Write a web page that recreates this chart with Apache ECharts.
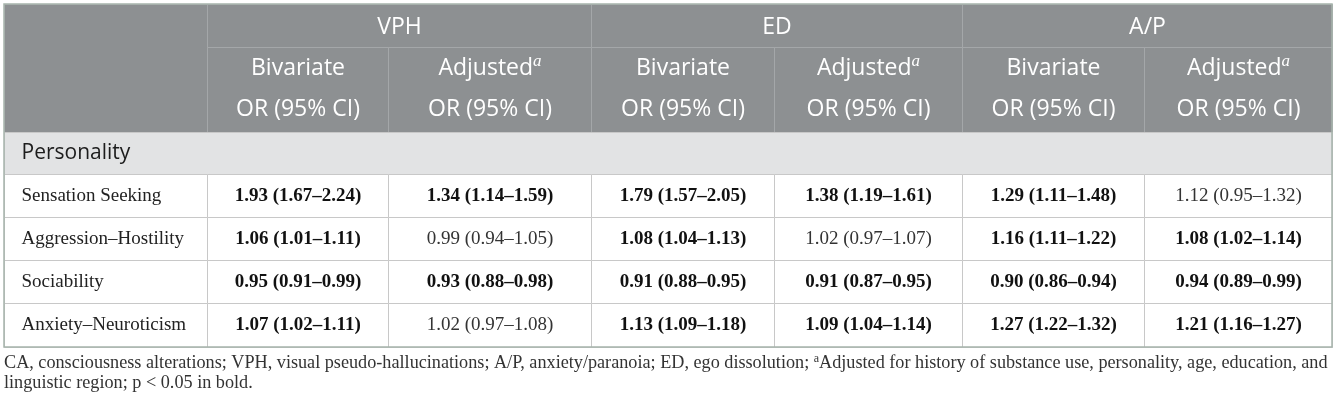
<!DOCTYPE html>
<html>
<head>
<meta charset="utf-8">
<title>Personality OR table</title>
<script src="https://cdn.jsdelivr.net/npm/echarts@6/dist/echarts.min.js"></script>
<style>
  html, body { margin: 0; padding: 0; background: #fff; }
  #tableChart { width: 1337px; height: 404px; }
</style>
</head>
<body>
<div id="tableChart"></div>
<script>
// table content
var groups = ['VPH', 'ED', 'A/P'];
var subHeads = ['Bivariate', 'Adjusted'];
var subLine2 = 'OR (95% CI)';
var sectionName = 'Personality';
var rowLabels = ['Sensation Seeking', 'Aggression–Hostility', 'Sociability', 'Anxiety–Neuroticism'];
var vphBiv = ['1.93 (1.67–2.24)', '1.06 (1.01–1.11)', '0.95 (0.91–0.99)', '1.07 (1.02–1.11)'];
var vphAdj = ['1.34 (1.14–1.59)', '0.99 (0.94–1.05)', '0.93 (0.88–0.98)', '1.02 (0.97–1.08)'];
var edBiv  = ['1.79 (1.57–2.05)', '1.08 (1.04–1.13)', '0.91 (0.88–0.95)', '1.13 (1.09–1.18)'];
var edAdj  = ['1.38 (1.19–1.61)', '1.02 (0.97–1.07)', '0.91 (0.87–0.95)', '1.09 (1.04–1.14)'];
var apBiv  = ['1.29 (1.11–1.48)', '1.16 (1.11–1.22)', '0.90 (0.86–0.94)', '1.27 (1.22–1.32)'];
var apAdj  = ['1.12 (0.95–1.32)', '1.08 (1.02–1.14)', '0.94 (0.89–0.99)', '1.21 (1.16–1.27)'];
var footLine1 = 'CA, consciousness alterations; VPH, visual pseudo-hallucinations; A/P, anxiety/paranoia; ED, ego dissolution; ';
var footLine1b = 'Adjusted for history of substance use, personality, age, education, and';
var footLine2 = 'linguistic region; p < 0.05 in bold.';

// layout (axis units = pixels inside the grid)
var colEdges = [0, 203, 384, 587, 770, 958, 1140, 1328];
var rowEdges = [0, 43, 128, 170, 213, 256, 299, 343];

var HEAD_BG = '#8d9092', HEAD_LINE = '#a4a7a9', BAND_BG = '#e2e3e4', BODY_LINE = '#c8c8c8';
var SANS = '"Open Sans", Lato, sans-serif', SERIF = '"Liberation Serif", "DejaVu Serif", serif';

// p < 0.05 when the CI does not contain 1
function isSignificant(s) {
	var m = s.match(/\(([\d.]+)–([\d.]+)\)/);
	if (!m) return false;
	var lo = parseFloat(m[1]), hi = parseFloat(m[2]);
	return lo > 1 || hi < 1;
}

var cells = [];
cells.push({c0: 0, c1: 1, r0: 0, r1: 2, kind: 'head', text: ''});
for (var g = 0; g < groups.length; g++) {
	cells.push({c0: 1 + g * 2, c1: 3 + g * 2, r0: 0, r1: 1, kind: 'head', text: groups[g]});
	for (var s = 0; s < subHeads.length; s++) {
		cells.push({c0: 1 + g * 2 + s, c1: 2 + g * 2 + s, r0: 1, r1: 2, kind: 'sub', text: subHeads[s], sup: s == 1});
	}
}
cells.push({c0: 0, c1: 7, r0: 2, r1: 3, kind: 'band', text: sectionName});
var valueCols = [vphBiv, vphAdj, edBiv, edAdj, apBiv, apAdj];
for (var r = 0; r < rowLabels.length; r++) {
	cells.push({c0: 0, c1: 1, r0: 3 + r, r1: 4 + r, kind: 'label', text: rowLabels[r]});
	for (var c = 0; c < valueCols.length; c++) {
		var v = valueCols[c][r];
		cells.push({c0: 1 + c, c1: 2 + c, r0: 3 + r, r1: 4 + r, kind: 'value', text: v, bold: isSignificant(v)});
	}
}

function renderCell(params, api) {
	var cell = cells[params.dataIndex];
	var p0 = api.coord([colEdges[cell.c0], rowEdges[cell.r0]]);
	var p1 = api.coord([colEdges[cell.c1], rowEdges[cell.r1]]);
	var x = Math.round(p0[0]) + 0.5, y = Math.round(p0[1]) + 0.5;
	var w = Math.round(p1[0]) - Math.round(p0[0]), h = Math.round(p1[1]) - Math.round(p0[1]);
	var isHead = cell.kind == 'head' || cell.kind == 'sub';
	var children = [{
		type: 'rect',
		shape: {x: x, y: y, width: w, height: h},
		style: {
			fill: isHead ? HEAD_BG : (cell.kind == 'band' ? BAND_BG : '#fff'),
			stroke: isHead ? HEAD_LINE : BODY_LINE,
			lineWidth: 1
		}
	}];
	var cx = x + w / 2, cy = y + h / 2;
	if (cell.kind == 'head' && cell.text) {
		children.push({type: 'text', style: {text: cell.text, x: cx, y: cy + 1, align: 'center', verticalAlign: 'middle',
			fill: '#fff', fontSize: 23, fontFamily: SANS}});
	} else if (cell.kind == 'sub') {
		var line1 = cell.sup ? '{t|' + cell.text + '}{s|a}' : '{t|' + cell.text + '}';
		children.push({type: 'text', style: {text: line1, x: cx, y: y + 21, align: 'center', verticalAlign: 'middle',
			rich: {
				t: {fontSize: 23, fontFamily: SANS, fill: '#fff', lineHeight: 30},
				s: {fontSize: 17, fontFamily: SERIF, fontStyle: 'italic', fill: '#fff', lineHeight: 17, verticalAlign: 'top'}
			}}});
		children.push({type: 'text', style: {text: subLine2, x: cx, y: y + 62, align: 'center', verticalAlign: 'middle',
			fill: '#fff', fontSize: 23, fontFamily: SANS}});
	} else if (cell.kind == 'band') {
		children.push({type: 'text', style: {text: cell.text, x: x + 17, y: cy, align: 'left', verticalAlign: 'middle',
			fill: '#1c1c1c', fontSize: 21, fontFamily: SANS}});
	} else if (cell.kind == 'label') {
		children.push({type: 'text', style: {text: cell.text, x: x + 17, y: cy, align: 'left', verticalAlign: 'middle',
			fill: '#222', fontSize: 19, fontFamily: SERIF}});
	} else if (cell.kind == 'value') {
		children.push({type: 'text', style: {text: cell.text, x: cx, y: cy, align: 'center', verticalAlign: 'middle',
			fill: cell.bold ? '#111' : '#333', fontSize: 19, fontFamily: SERIF, fontWeight: cell.bold ? 'bold' : 'normal'}});
	}
	return {type: 'group', children: children};
}

function renderFrame(params, api) {
	var p0 = api.coord([colEdges[0], rowEdges[0]]);
	var p1 = api.coord([colEdges[colEdges.length - 1], rowEdges[rowEdges.length - 1]]);
	return {type: 'rect', shape: {x: p0[0], y: p0[1], width: p1[0] - p0[0], height: p1[1] - p0[1]},
		style: {fill: 'none', stroke: '#a6b4ac', lineWidth: 1.5}};
}

var tableChart = echarts.init(document.getElementById('tableChart'));
var option = {
	animation: false,
	title: {
		left: 4,
		top: 353,
		padding: 0,
		text: '{n|' + footLine1 + '}{s|a}{n|' + footLine1b + '}\n{n|' + footLine2 + '}',
		textStyle: {
			fontWeight: 'normal',
			rich: {
				n: {fontSize: 18.2, fontFamily: SERIF, fontWeight: 'normal', color: '#333', lineHeight: 20},
				s: {fontSize: 12, fontFamily: SERIF, fontWeight: 'normal', color: '#333', lineHeight: 13, verticalAlign: 'top'}
			}
		}
	},
	grid: {left: 4, top: 4, width: 1328, height: 343},
	xAxis: {type: 'value', min: 0, max: 1328, show: false},
	yAxis: {type: 'value', min: 0, max: 343, inverse: true, show: false},
	series: [{
		type: 'custom',
		renderItem: renderCell,
		data: cells.map(function(c) { return [colEdges[c.c0], rowEdges[c.r0]]; }),
		silent: true
	}, {
		type: 'custom',
		renderItem: renderFrame,
		data: [[0, 0]],
		silent: true,
		z: 3
	}]
};
tableChart.setOption(option);
</script>
</body>
</html>
